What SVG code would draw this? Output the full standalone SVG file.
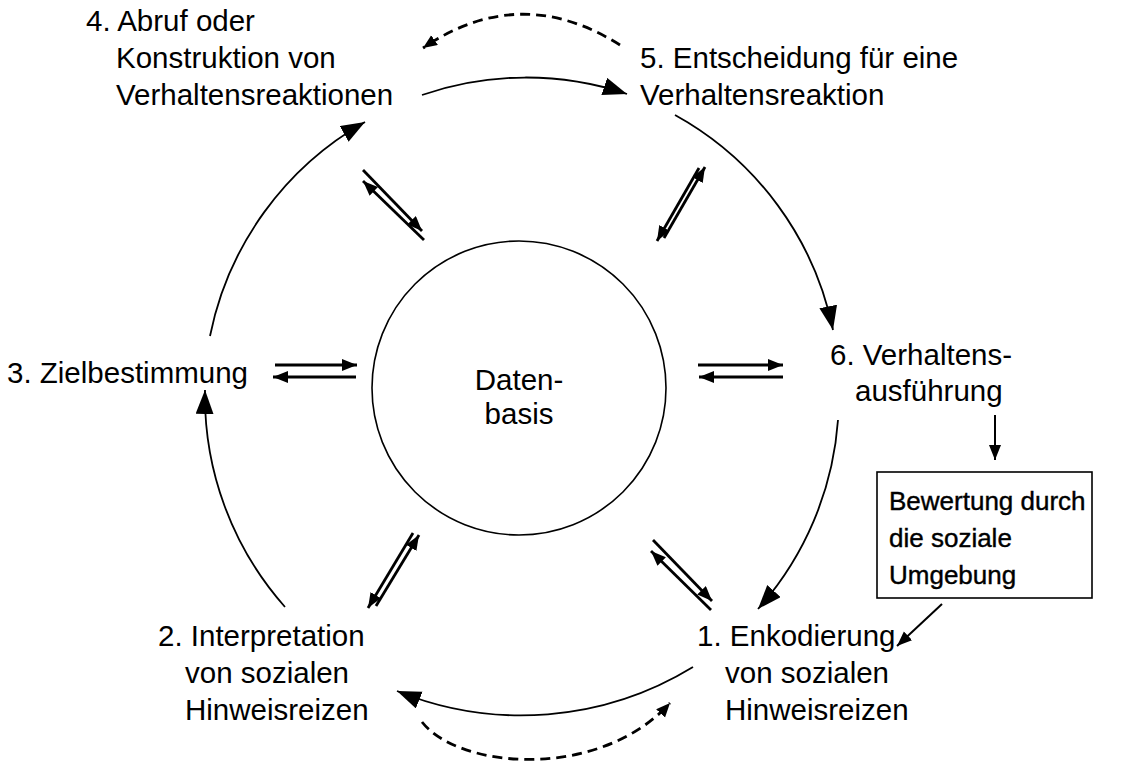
<svg xmlns="http://www.w3.org/2000/svg" width="1122" height="771" viewBox="0 0 1122 771">
  <style>
    text { font-family: "Liberation Sans", Arial, sans-serif; font-size: 29.5px; fill: #000; }
    .mid { text-anchor: middle; }
    .box-text { font-size: 26px; stroke: #000; stroke-width: 0.4px; }
    .arc { fill: none; stroke: #000; stroke-width: 1.8; marker-end: url(#headBig); }
    .dash { fill: none; stroke: #000; stroke-width: 2.8; stroke-dasharray: 10 6; marker-end: url(#headSmall); }
    .pair { fill: none; stroke: #000; stroke-width: 2.8; marker-end: url(#headPair); }
    .thin { fill: none; stroke: #000; stroke-width: 2; marker-end: url(#headPair); }
  </style>
  <defs>
    <marker id="headBig" markerUnits="userSpaceOnUse" markerWidth="26" markerHeight="20" refX="24" refY="9" orient="auto">
      <path d="M0,0 L24,9 L0,18 z" fill="#000"/>
    </marker>
    <marker id="headSmall" markerUnits="userSpaceOnUse" markerWidth="16" markerHeight="14" refX="14" refY="6" orient="auto">
      <path d="M0,0 L14,6 L0,12 z" fill="#000"/>
    </marker>
    <marker id="headPair" markerUnits="userSpaceOnUse" markerWidth="18" markerHeight="14" refX="15" refY="6" orient="auto">
      <path d="M0,0 L15,6 L0,12 z" fill="#000"/>
    </marker>
  </defs>

  <!-- central data base -->
  <g id="datenbasis">
    <circle cx="519" cy="388" r="147" fill="none" stroke="#000" stroke-width="1.6"/>
    <text class="mid" x="519" y="390">Daten-</text>
    <text class="mid" x="519" y="424">basis</text>
  </g>

  <!-- processing steps -->
  <g id="step4">
    <text x="86" y="31">4. Abruf oder</text>
    <text x="116" y="68">Konstruktion von</text>
    <text x="116" y="105">Verhaltensreaktionen</text>
  </g>
  <g id="step5">
    <text x="640" y="68">5. Entscheidung für eine</text>
    <text x="640" y="105">Verhaltensreaktion</text>
  </g>
  <g id="step3">
    <text x="7" y="383">3. Zielbestimmung</text>
  </g>
  <g id="step6">
    <text x="830" y="365">6. Verhaltens-</text>
    <text x="855" y="401">ausführung</text>
  </g>
  <g id="step2">
    <text x="158" y="646">2. Interpretation</text>
    <text x="185" y="683">von sozialen</text>
    <text x="185" y="720">Hinweisreizen</text>
  </g>
  <g id="step1">
    <text x="697" y="646">1. Enkodierung</text>
    <text x="725" y="683">von sozialen</text>
    <text x="725" y="720">Hinweisreizen</text>
  </g>
  <g id="bewertung">
    <rect x="877" y="472" width="215" height="126" fill="#fff" stroke="#000" stroke-width="1.6"/>
    <text class="box-text" x="889" y="510">Bewertung durch</text>
    <text class="box-text" x="889" y="547">die soziale</text>
    <text class="box-text" x="889" y="584">Umgebung</text>
  </g>

  <g id="connectors">
    <!-- cycle arcs -->
    <path class="arc" d="M210,336 A318,318 0 0 1 365,122"/>
    <path class="arc" d="M422,95 A318,318 0 0 1 627,94"/>
    <path class="arc" d="M675,115 A318,318 0 0 1 833,330"/>
    <path class="arc" d="M838,420 A318,318 0 0 1 758,609"/>
    <path class="arc" d="M693,667 A329,329 0 0 1 397,691"/>
    <path class="arc" d="M285,607 A318,318 0 0 1 205,390"/>
    <!-- feedback loops -->
    <path class="dash" d="M620,45 Q520,-18 423,48"/>
    <path class="dash" d="M422,722 C460,770 600,780 670,703"/>
    <!-- exchange with the data base -->
    <path class="pair" d="M363,170 L422,231"/>
    <path class="pair" d="M424,240 L363,181"/>
    <path class="pair" d="M664,238 L705,167"/>
    <path class="pair" d="M699,168 L657,241"/>
    <path class="pair" d="M275,365 L357,365"/>
    <path class="pair" d="M356,377 L273,377"/>
    <path class="pair" d="M698,365 L783,365"/>
    <path class="pair" d="M783,377 L699,377"/>
    <path class="pair" d="M376,606 L419,535"/>
    <path class="pair" d="M413,533 L368,608"/>
    <path class="pair" d="M653,540 L712,601"/>
    <path class="pair" d="M711,610 L651,551"/>
    <!-- evaluation loop -->
    <path class="thin" d="M995,415 L995,460"/>
    <path class="thin" d="M942,604 L897,646"/>
  </g>
</svg>
